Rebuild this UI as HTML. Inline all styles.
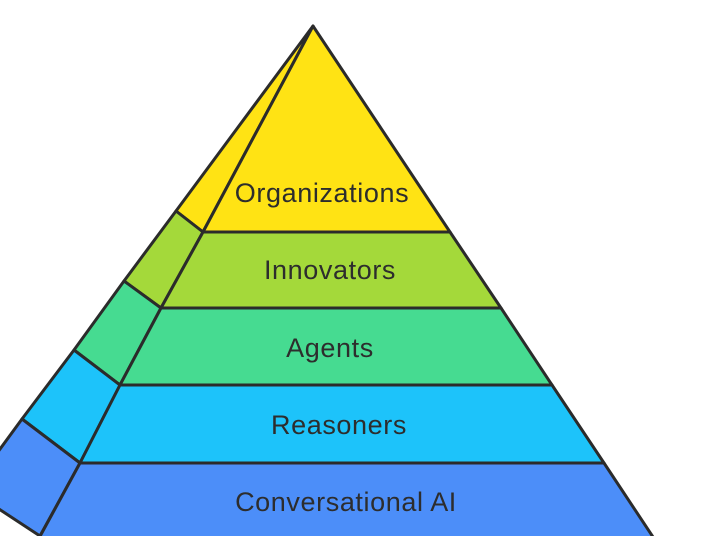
<!DOCTYPE html>
<html><head><style>body{margin:0;background:#fff;}svg{display:block}</style></head>
<body>
<svg width="723" height="536" viewBox="0 0 723 536" xmlns="http://www.w3.org/2000/svg">
<g stroke="#2b2b2b" stroke-width="3" stroke-linejoin="round">
<polygon points="313,26 176,211 203,232" fill="#FFE314"/>
<polygon points="176,211 203,232 161,308 124,281" fill="#A4D93A"/>
<polygon points="124,281 161,308 120,385 74,350" fill="#46DB91"/>
<polygon points="74,350 120,385 80,463 22,419" fill="#1DC3FA"/>
<polygon points="22,419 80,463 40,536 -30,490" fill="#4C8EF9"/>
<polygon points="313,26 450,232 203,232" fill="#FFE314"/>
<polygon points="203,232 450,232 501,308 161,308" fill="#A4D93A"/>
<polygon points="161,308 501,308 552,385 120,385" fill="#46DB91"/>
<polygon points="120,385 552,385 604,463 80,463" fill="#1DC3FA"/>
<polygon points="80,463 604,463 655,540 38,540" fill="#4C8EF9"/>
</g>
<g font-family="Liberation Sans, sans-serif" font-size="27" fill="#2d2d2d" text-anchor="middle" letter-spacing="0.6">
<text x="322" y="202">Organizations</text>
<text x="330" y="279">Innovators</text>
<text x="330" y="357">Agents</text>
<text x="339" y="434">Reasoners</text>
<text x="346" y="511">Conversational AI</text>
</g>
</svg>
</body></html>
